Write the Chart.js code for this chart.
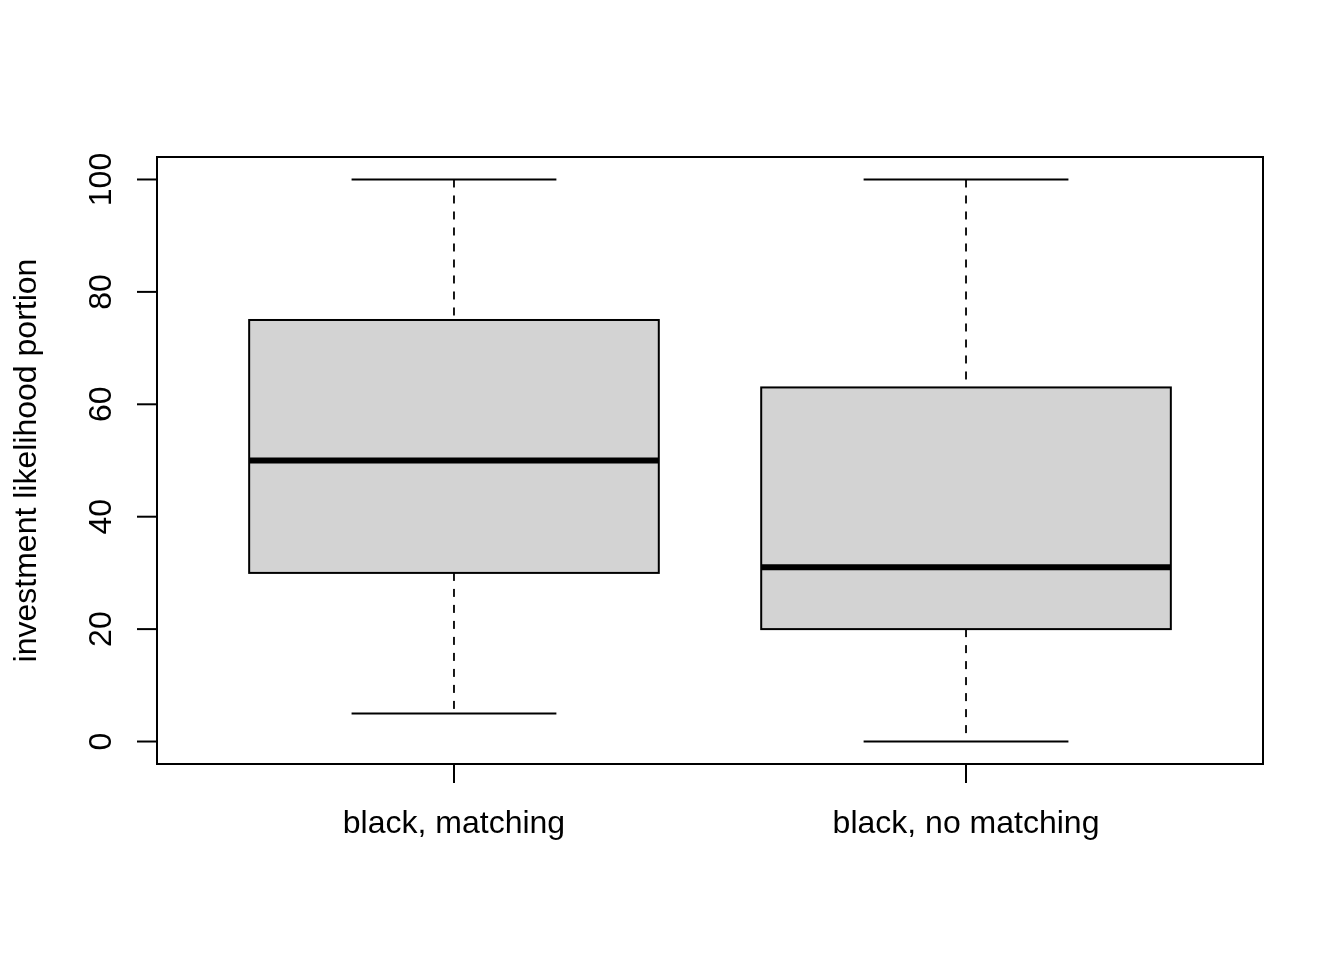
<!DOCTYPE html>
<html>
<head>
<meta charset="utf-8">
<script src="https://cdn.jsdelivr.net/npm/chart.js@4/dist/chart.umd.min.js"></script>
<style>
  html, body { margin: 0; padding: 0; background: #ffffff; }
  #wrap { width: 1344px; height: 960px; }
</style>
</head>
<body>
<div id="wrap"><canvas id="c" width="1344" height="960"></canvas></div>
<script>
// ---- data ----
const categories = ["black, matching", "black, no matching"];
const whiskerLow = [5, 0];
const q1Values = [30, 20];
const medianValues = [50, 31];
const q3Values = [75, 63];
const whiskerHigh = [100, 100];
const yTicks = [0, 20, 40, 60, 80, 100];
const yTitle = "investment likelihood portion";

const FONT = '32px "Liberation Sans", Arial, Helvetica, sans-serif';
const BOX_HALF = 0.4;
const STAPLE_HALF = 0.2;

const boxPlugin = {
  id: 'rBoxplot',
  afterDraw(chart) {
    const ctx = chart.ctx;
    const xs = chart.scales.x, ys = chart.scales.y;
    const area = chart.chartArea;
    ctx.save();
    ctx.strokeStyle = '#000';
    ctx.fillStyle = '#000';

    categories.forEach((cat, i) => {
      const pos = i + 1;
      const xc = xs.getPixelForValue(pos);
      const yLo = ys.getPixelForValue(whiskerLow[i]);
      const yQ1 = ys.getPixelForValue(q1Values[i]);
      const yMed = ys.getPixelForValue(medianValues[i]);
      const yQ3 = ys.getPixelForValue(q3Values[i]);
      const yHi = ys.getPixelForValue(whiskerHigh[i]);
      // whiskers (dashed), drawn from the staple toward the box
      ctx.lineWidth = 1.8;
      ctx.setLineDash([8, 8]);
      ctx.beginPath();
      ctx.moveTo(xc, yHi); ctx.lineTo(xc, yQ3);
      ctx.stroke();
      ctx.beginPath();
      ctx.moveTo(xc, yQ1); ctx.lineTo(xc, yLo);
      ctx.stroke();
      ctx.setLineDash([]);
      // staples
      ctx.lineWidth = 2;
      const sl = xs.getPixelForValue(pos - STAPLE_HALF), sr = xs.getPixelForValue(pos + STAPLE_HALF);
      ctx.beginPath();
      ctx.moveTo(sl, yLo); ctx.lineTo(sr, yLo);
      ctx.moveTo(sl, yHi); ctx.lineTo(sr, yHi);
      ctx.stroke();
      // box
      const bl = xs.getPixelForValue(pos - BOX_HALF), br = xs.getPixelForValue(pos + BOX_HALF);
      ctx.fillStyle = '#d3d3d3';
      ctx.fillRect(bl, yQ3, br - bl, yQ1 - yQ3);
      ctx.strokeRect(bl, yQ3, br - bl, yQ1 - yQ3);
      // median
      ctx.lineWidth = 6;
      ctx.lineCap = 'butt';
      ctx.beginPath();
      ctx.moveTo(bl, yMed); ctx.lineTo(br, yMed);
      ctx.stroke();
      ctx.fillStyle = '#000';
    });

    // plot frame
    ctx.lineWidth = 2;
    ctx.strokeRect(area.left, area.top, area.right - area.left, area.bottom - area.top);

    // y axis ticks + labels
    ctx.font = FONT;
    ctx.lineWidth = 2;
    yTicks.forEach(v => {
      const y = ys.getPixelForValue(v);
      ctx.beginPath();
      ctx.moveTo(area.left, y); ctx.lineTo(area.left - 20, y);
      ctx.stroke();
      ctx.save();
      ctx.translate(111, y);
      ctx.rotate(-Math.PI / 2);
      ctx.textAlign = 'center';
      ctx.textBaseline = 'alphabetic';
      ctx.fillText(String(v), 0, 0);
      ctx.restore();
    });

    // x axis ticks + labels
    categories.forEach((cat, i) => {
      const x = xs.getPixelForValue(i + 1);
      ctx.beginPath();
      ctx.moveTo(x, area.bottom); ctx.lineTo(x, area.bottom + 19);
      ctx.stroke();
      ctx.textAlign = 'center';
      ctx.textBaseline = 'alphabetic';
      ctx.fillText(cat, x, 833);
    });

    // y title
    ctx.save();
    ctx.translate(36, (area.top + area.bottom) / 2);
    ctx.rotate(-Math.PI / 2);
    ctx.textAlign = 'center';
    ctx.textBaseline = 'alphabetic';
    ctx.fillText(yTitle, 0, 0);
    ctx.restore();

    ctx.restore();
  }
};

new Chart(document.getElementById('c'), {
  type: 'scatter',
  data: {
    datasets: [{
      data: categories.map((c, i) => ({ x: i + 1, y: medianValues[i] })),
      pointRadius: 0,
      showLine: false
    }]
  },
  options: {
    responsive: false,
    animation: false,
    devicePixelRatio: 1,
    layout: { padding: { left: 157, top: 157, right: 81, bottom: 196 } },
    plugins: { legend: { display: false }, tooltip: { enabled: false } },
    scales: {
      x: { type: 'linear', min: 0.42, max: 2.58, display: false },
      y: { type: 'linear', min: -4, max: 104, display: false }
    }
  },
  plugins: [boxPlugin]
});
</script>
</body>
</html>
